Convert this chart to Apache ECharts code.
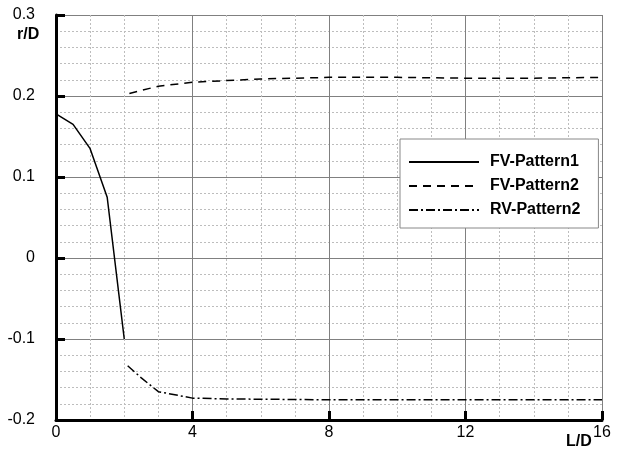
<!DOCTYPE html>
<html><head><meta charset="utf-8">
<script src="https://cdn.jsdelivr.net/npm/echarts@6/dist/echarts.min.js"></script>
<style>html,body{margin:0;padding:0;background:#fff}#c{width:619px;height:452px}</style>
</head><body><div id="c"></div>
<script>
const fv1X = [0, 0.5, 1, 1.5, 2];
const fv1Y = [0.178, 0.165, 0.135, 0.075, -0.1];
const fv2X = [2.15, 2.5, 3, 4, 5, 6, 7, 8, 10, 12, 14, 16];
const fv2Y = [0.203, 0.207, 0.212, 0.217, 0.219, 0.221, 0.222, 0.223, 0.223, 0.222, 0.222, 0.223];
const rv2X = [2.1, 2.5, 3, 4, 5, 8, 12, 16];
const rv2Y = [-0.133, -0.148, -0.165, -0.173, -0.174, -0.175, -0.175, -0.175];
const names = ['FV-Pattern1', 'FV-Pattern2', 'RV-Pattern2'];
const xTicks = [0, 4, 8, 12, 16];
const yTicks = [-0.2, -0.1, 0, 0.1, 0.2, 0.3];

const zip = (a, b) => a.map((v, i) => [v, b[i]]);
const font = 'Liberation Sans, Arial, sans-serif';
const nfont = '"Liberation Sans Narrow", "Arial Narrow", "Liberation Sans", sans-serif';
const chart = echarts.init(document.getElementById('c'));
chart.setOption({
  animation: false,
  backgroundColor: '#fff',
  grid: { left: 56, right: 17, top: 15, bottom: 32 },
  legend: {
    left: 400, top: 139, orient: 'vertical',
    backgroundColor: '#fff', borderColor: '#888', borderWidth: 1,
    padding: [15, 18, 10, 8], itemGap: 8, itemWidth: 70, itemHeight: 14,
    itemStyle: { opacity: 0 },
    textStyle: { fontFamily: font, fontSize: 16, fontWeight: 'bold', color: '#000', padding: [0, 0, 0, 6] },
    data: names
  },
  xAxis: {
    type: 'value', min: 0, max: 16, interval: 4,
    axisLine: { show: true, onZero: false, lineStyle: { color: '#000', width: 3 } },
    axisTick: { show: true, inside: true, length: 9, lineStyle: { color: '#000', width: 3 } },
    axisLabel: { fontFamily: nfont, fontSize: 16, color: '#000', margin: 5 },
    splitLine: { show: true, lineStyle: { color: '#808080', width: 1 } },
    minorTick: { show: false, splitNumber: 4 },
    minorSplitLine: { show: true, lineStyle: { color: '#bdbdbd', width: 1, type: [2, 2] } }
  },
  yAxis: {
    type: 'value', min: -0.2, max: 0.3, interval: 0.1,
    axisLine: { show: true, onZero: false, lineStyle: { color: '#000', width: 3 } },
    axisTick: { show: true, inside: true, length: 9, lineStyle: { color: '#000', width: 3 } },
    axisLabel: { fontFamily: nfont, fontSize: 16, color: '#000', margin: 21,
      formatter: v => { const r = Math.round(v * 10) / 10; return r === 0 ? '0' : r.toFixed(1); } },
    splitLine: { show: true, lineStyle: { color: '#808080', width: 1 } },
    minorTick: { show: false, splitNumber: 5 },
    minorSplitLine: { show: true, lineStyle: { color: '#bdbdbd', width: 1, type: [2, 2] } }
  },
  graphic: [
    { type: 'text', x: 17, y: 35, style: { text: 'r/D', font: 'bold 16px ' + nfont, fill: '#000', verticalAlign: 'middle' } },
    { type: 'text', x: 566, y: 442, style: { text: 'L/D', font: 'bold 16px ' + nfont, fill: '#000', verticalAlign: 'middle' } }
  ],
  series: [
    { name: names[0], type: 'line', data: zip(fv1X, fv1Y), symbol: 'none',
      lineStyle: { color: '#000', width: 1.5, type: 'solid' }, itemStyle: { color: '#000' } },
    { name: names[1], type: 'line', data: zip(fv2X, fv2Y), symbol: 'none',
      lineStyle: { color: '#000', width: 1.5, type: [8, 6] }, itemStyle: { color: '#000' } },
    { name: names[2], type: 'line', data: zip(rv2X, rv2Y), symbol: 'none',
      lineStyle: { color: '#000', width: 1.5, type: [9, 3, 2, 3] }, itemStyle: { color: '#000' } }
  ]
});
</script></body></html>
